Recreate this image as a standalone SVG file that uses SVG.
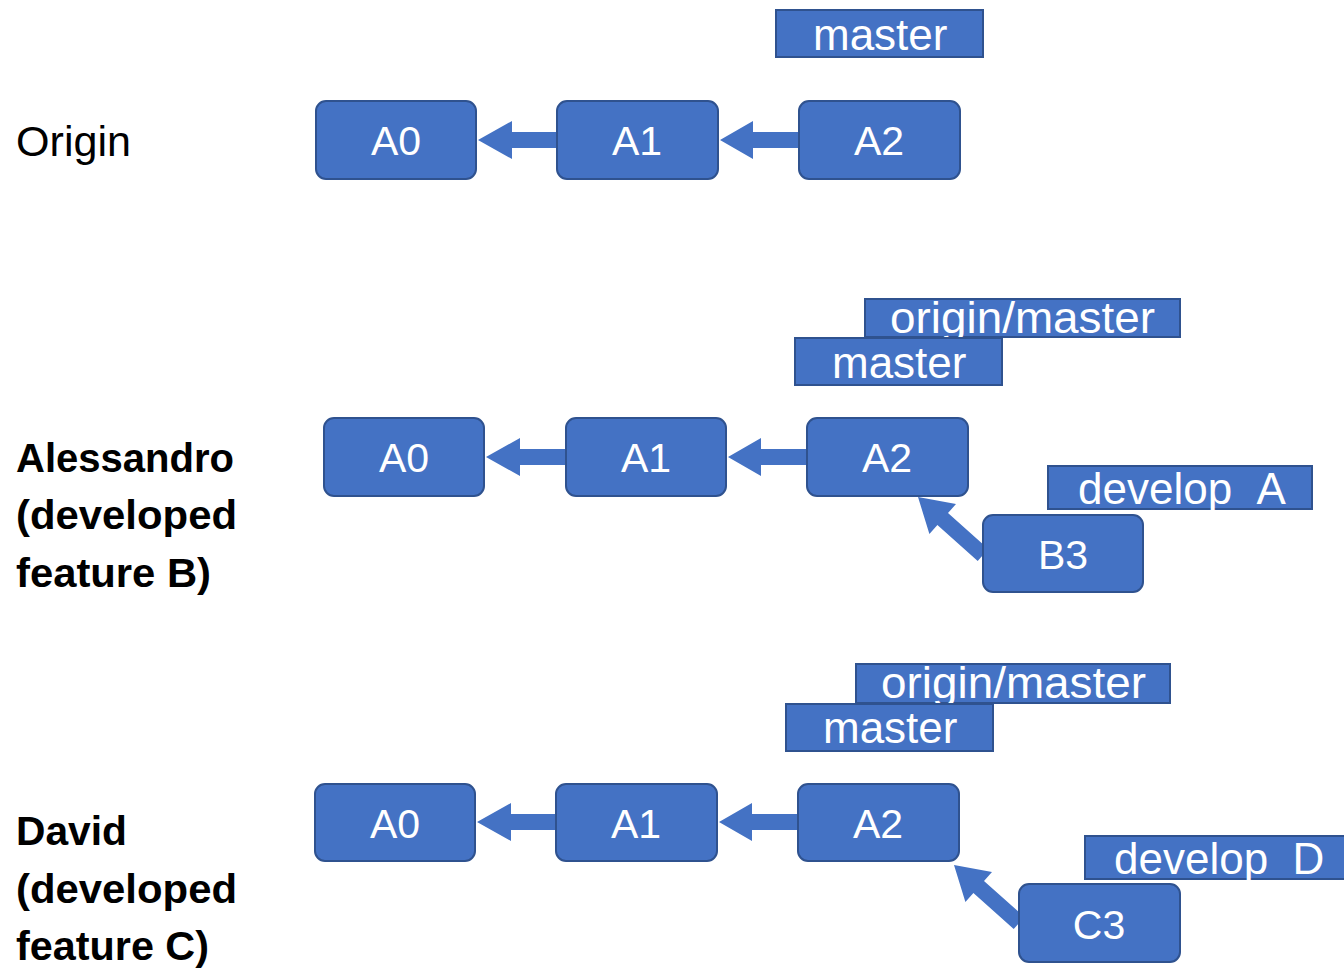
<svg xmlns="http://www.w3.org/2000/svg" width="1344" height="968" viewBox="0 0 1344 968">
<style>
.node{fill:#4472C4;stroke:#2F528F;stroke-width:2}
.tag{fill:#4472C4;stroke:#2F528F;stroke-width:2}
.nt{font-family:"Liberation Sans",Arial,sans-serif;font-size:41px;fill:#fff;text-anchor:middle}
.tt{font-family:"Liberation Sans",Arial,sans-serif;font-size:44px;fill:#fff}
.lbl{font-family:"Liberation Sans",Arial,sans-serif;font-size:40px;fill:#000}
.b{font-weight:bold}
.arr{fill:#4472C4;stroke:none}
</style>
<defs>
  <clipPath id="clipA"><rect x="1040" y="440" width="300" height="70"/></clipPath>
  <clipPath id="clipD"><rect x="1080" y="810" width="264" height="70"/></clipPath>
</defs>
<rect width="1344" height="968" fill="#fff"/>

<g id="connectors">
  <g id="row1-arrows">
    <polygon class="arr" points="557,132 512,132 512,121 478,140 512,159 512,148 557,148"/>
    <polygon class="arr" points="799,132 753,132 753,121 720,140 753,159 753,148 799,148"/>
  </g>
  <g id="row2-arrows" transform="translate(8,317)">
    <polygon class="arr" points="557,132 512,132 512,121 478,140 512,159 512,148 557,148"/>
    <polygon class="arr" points="799,132 753,132 753,121 720,140 753,159 753,148 799,148"/>
  </g>
  <polygon id="b3-a2" class="arr" points="988.3,549 948,513 956,504.1 918,497 929.4,533.9 937.4,525 977.7,561"/>
  <g id="row3-arrows" transform="translate(-1,682)">
    <polygon class="arr" points="557,132 512,132 512,121 478,140 512,159 512,148 557,148"/>
    <polygon class="arr" points="799,132 753,132 753,121 720,140 753,159 753,148 799,148"/>
  </g>
  <polygon id="c3-a2" class="arr" transform="translate(36,368)" points="988.3,549 948,513 956,504.1 918,497 929.4,533.9 937.4,525 977.7,561"/>
</g>

<!-- Labels -->
<g id="label-origin"><text class="lbl" x="16" y="156" style="font-size:42px" textLength="115" lengthAdjust="spacingAndGlyphs">Origin</text></g>
<g id="label-alessandro">
  <text class="lbl b" x="16" y="472" textLength="218" lengthAdjust="spacingAndGlyphs">Alessandro</text>
  <text class="lbl b" x="16" y="529" textLength="221" lengthAdjust="spacingAndGlyphs">(developed</text>
  <text class="lbl b" x="16" y="587" textLength="195" lengthAdjust="spacingAndGlyphs">feature B)</text>
</g>
<g id="label-david">
  <text class="lbl b" x="16" y="845" textLength="111" lengthAdjust="spacingAndGlyphs">David</text>
  <text class="lbl b" x="16" y="903" textLength="221" lengthAdjust="spacingAndGlyphs">(developed</text>
  <text class="lbl b" x="16" y="960" textLength="193" lengthAdjust="spacingAndGlyphs">feature C)</text>
</g>

<!-- Row 1 -->
<g id="r1-master"><rect class="tag" x="776" y="10" width="207" height="47"/><text class="tt" x="813" y="50">master</text></g>
<g id="r1-A0"><rect class="node" x="316" y="101" width="160" height="78" rx="10"/><text class="nt" x="396" y="155">A0</text></g>
<g id="r1-A1"><rect class="node" x="557" y="101" width="161" height="78" rx="10"/><text class="nt" x="637" y="155">A1</text></g>
<g id="r1-A2"><rect class="node" x="799" y="101" width="161" height="78" rx="10"/><text class="nt" x="879" y="155">A2</text></g>

<!-- Row 2 -->
<g id="r2-origin-master"><rect class="tag" x="865" y="299" width="315" height="38"/><text class="tt" x="890" y="333" textLength="265" lengthAdjust="spacingAndGlyphs">origin/master</text></g>
<g id="r2-master"><rect class="tag" x="795" y="338" width="207" height="47"/><text class="tt" x="832" y="378">master</text></g>
<g id="r2-A0"><rect class="node" x="324" y="418" width="160" height="78" rx="10"/><text class="nt" x="404" y="472">A0</text></g>
<g id="r2-A1"><rect class="node" x="566" y="418" width="160" height="78" rx="10"/><text class="nt" x="646" y="472">A1</text></g>
<g id="r2-A2"><rect class="node" x="807" y="418" width="161" height="78" rx="10"/><text class="nt" x="887" y="472">A2</text></g>
<g id="r2-develop-A"><rect class="tag" x="1048" y="466" width="264" height="43"/><text class="tt" x="1078" y="504" clip-path="url(#clipA)">develop_A</text></g>
<g id="r2-B3"><rect class="node" x="983" y="515" width="160" height="77" rx="10"/><text class="nt" x="1063" y="569">B3</text></g>

<!-- Row 3 -->
<g id="r3-origin-master"><rect class="tag" x="856" y="664" width="314" height="39"/><text class="tt" x="881" y="698" textLength="265" lengthAdjust="spacingAndGlyphs">origin/master</text></g>
<g id="r3-master"><rect class="tag" x="786" y="704" width="207" height="47"/><text class="tt" x="823" y="743">master</text></g>
<g id="r3-A0"><rect class="node" x="315" y="784" width="160" height="77" rx="10"/><text class="nt" x="395" y="838">A0</text></g>
<g id="r3-A1"><rect class="node" x="556" y="784" width="161" height="77" rx="10"/><text class="nt" x="636" y="838">A1</text></g>
<g id="r3-A2"><rect class="node" x="798" y="784" width="161" height="77" rx="10"/><text class="nt" x="878" y="838">A2</text></g>
<g id="r3-develop-D"><rect class="tag" x="1085" y="836" width="265" height="43"/><text class="tt" x="1114" y="874" clip-path="url(#clipD)">develop_D</text></g>
<g id="r3-C3"><rect class="node" x="1019" y="884" width="161" height="78" rx="10"/><text class="nt" x="1099" y="939">C3</text></g>
</svg>
